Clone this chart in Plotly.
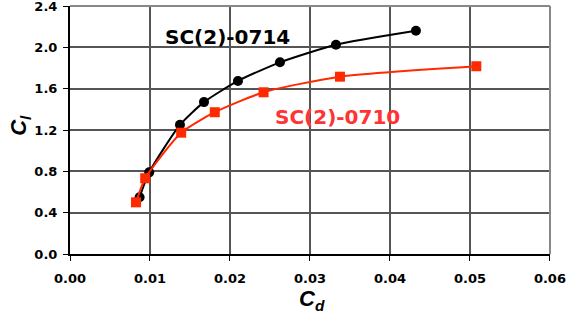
import plotly.graph_objects as go

cd_0714 = [0.0087, 0.0099, 0.01375, 0.01675, 0.0210, 0.02625, 0.03325, 0.04325]
cl_0714 = [0.55, 0.79, 1.25, 1.47, 1.675, 1.855, 2.025, 2.16]
cd_0710 = [0.00825, 0.0094, 0.0139, 0.0181, 0.0242, 0.03375, 0.0508]
cl_0710 = [0.50, 0.733, 1.174, 1.372, 1.565, 1.716, 1.817]

x_ticks = [0.0, 0.01, 0.02, 0.03, 0.04, 0.05, 0.06]
x_labels = ["0.00", "0.01", "0.02", "0.03", "0.04", "0.05", "0.06"]
y_ticks = [0.0, 0.4, 0.8, 1.2, 1.6, 2.0, 2.4]
y_labels = ["0.0", "0.4", "0.8", "1.2", "1.6", "2.0", "2.4"]

FONT = "Liberation Sans, Arial, sans-serif"
WIDE = "DejaVu Sans, sans-serif"

fig = go.Figure()
fig.add_trace(go.Scatter(x=cd_0714, y=cl_0714, mode="lines+markers",
                         line=dict(color="black", width=2, shape="spline", smoothing=0.6),
                         marker=dict(symbol="circle", size=10, color="black"),
                         name="SC(2)-0714", showlegend=False, cliponaxis=False))
fig.add_trace(go.Scatter(x=cd_0710, y=cl_0710, mode="lines+markers",
                         line=dict(color="#ff2a00", width=2, shape="spline", smoothing=0.6),
                         marker=dict(symbol="square", size=10, color="#ff2a00"),
                         name="SC(2)-0710", showlegend=False, cliponaxis=False))

fig.add_annotation(x=0.01975, y=2.10, xref="x", yref="y", text="<b>SC(2)-0714</b>",
                   showarrow=False, font=dict(family=WIDE, size=20, color="black"))
fig.add_annotation(x=0.0335, y=1.326, xref="x", yref="y", text="<b>SC(2)-0710</b>",
                   showarrow=False, font=dict(family=WIDE, size=20, color="#ff3333"))

# axis titles
fig.add_annotation(x=0, xref="paper", xshift=-50, xanchor="center",
                   y=1.24, yref="y", yanchor="middle", textangle=-90,
                   text="<b><i>C<sub>l</sub></i></b>", showarrow=False,
                   font=dict(family=FONT, size=22, color="black"))
fig.add_annotation(x=0.0303, xref="x", xanchor="center",
                   y=0, yref="paper", yshift=-46, yanchor="middle",
                   text="<b><i>C<sub>d</sub></i></b>", showarrow=False,
                   font=dict(family=FONT, size=22, color="black"))

axis_common = dict(showgrid=True, gridcolor="#555555", gridwidth=1.5,
                   showline=True, linecolor="black", linewidth=2, mirror=False,
                   ticks="outside", ticklen=5, tickcolor="black", zeroline=False,
                   automargin=False, layer="below traces", ticklabeloverflow="allow",
                   tickfont=dict(family=WIDE, size=13, color="black"))

fig.update_xaxes(range=[0, 0.06001], tickvals=x_ticks,
                 ticktext=["<b>%s</b>" % t for t in x_labels],
                 ticklabelstandoff=6, **axis_common)
fig.update_yaxes(range=[0, 2.4001], tickvals=y_ticks,
                 ticktext=["<b>%s</b>" % t for t in y_labels],
                 ticklabelstandoff=3, **axis_common)

# top/right border in gray
fig.add_shape(type="line", xref="paper", yref="paper", x0=0, y0=1, x1=1, y1=1,
              line=dict(color="#888888", width=2))
fig.add_shape(type="line", xref="paper", yref="paper", x0=1, y0=0, x1=1, y1=1,
              line=dict(color="#888888", width=2))

fig.update_layout(width=568, height=315, margin=dict(l=70, r=18, t=6, b=61),
                  plot_bgcolor="white", paper_bgcolor="white")

fig.write_html("out.html", config={"displayModeBar": False},
               post_script="document.body.style.margin='0';")
